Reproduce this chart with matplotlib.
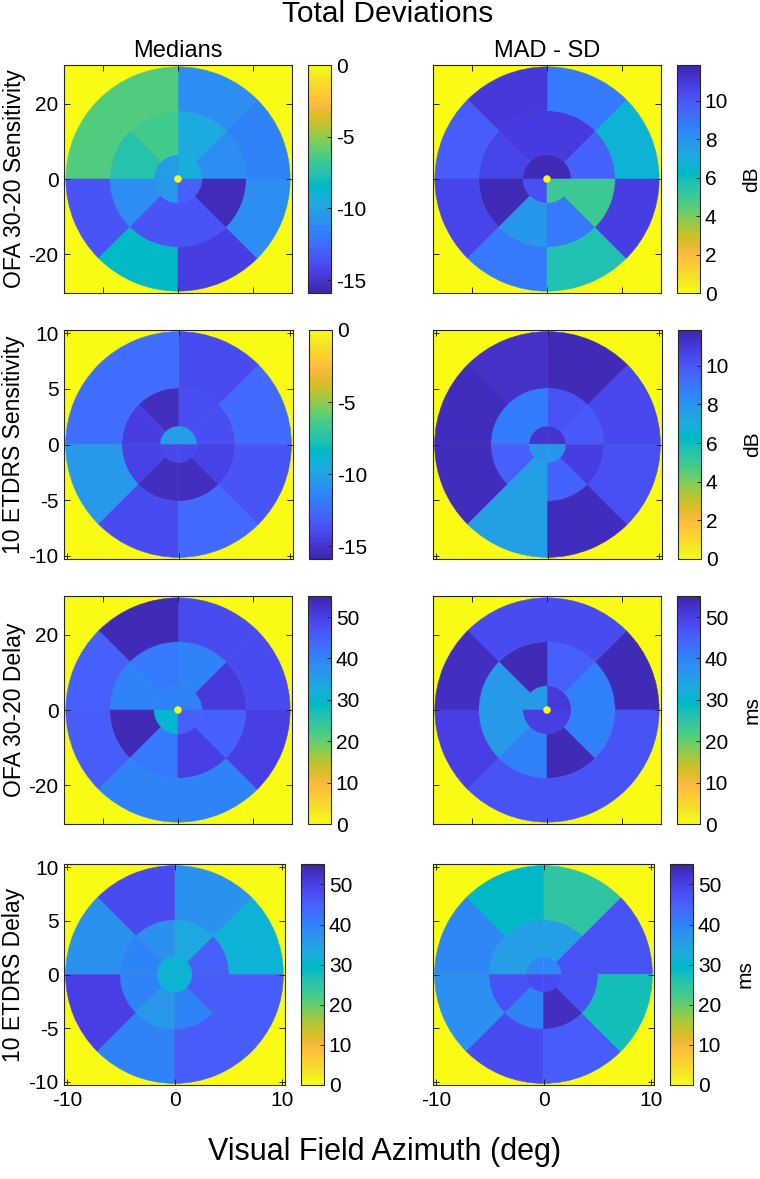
import numpy as np
import matplotlib
matplotlib.use('Agg')
import matplotlib.pyplot as plt
from matplotlib.patches import Wedge, Circle
from matplotlib.collections import PatchCollection
from matplotlib.colors import LinearSegmentedColormap, Normalize

plt.rcParams['font.family'] = ['Liberation Sans', 'DejaVu Sans']
plt.rcParams['axes.unicode_minus'] = False

# MATLAB parula (64 entries)
PARULA = [
    [0.2422, 0.1504, 0.6603], [0.2504, 0.1650, 0.7076], [0.2578, 0.1818, 0.7511], [0.2647, 0.1978, 0.7952],
    [0.2706, 0.2147, 0.8364], [0.2751, 0.2342, 0.8710], [0.2783, 0.2559, 0.8991], [0.2803, 0.2782, 0.9221],
    [0.2813, 0.3006, 0.9414], [0.2810, 0.3228, 0.9579], [0.2795, 0.3447, 0.9717], [0.2760, 0.3667, 0.9829],
    [0.2699, 0.3892, 0.9906], [0.2602, 0.4123, 0.9952], [0.2440, 0.4358, 0.9988], [0.2206, 0.4603, 0.9973],
    [0.1963, 0.4847, 0.9892], [0.1834, 0.5074, 0.9798], [0.1786, 0.5289, 0.9682], [0.1764, 0.5499, 0.9520],
    [0.1687, 0.5703, 0.9359], [0.1540, 0.5902, 0.9218], [0.1460, 0.6091, 0.9079], [0.1380, 0.6276, 0.8973],
    [0.1248, 0.6459, 0.8883], [0.1113, 0.6635, 0.8763], [0.0952, 0.6798, 0.8598], [0.0689, 0.6948, 0.8394],
    [0.0297, 0.7082, 0.8163], [0.0036, 0.7203, 0.7917], [0.0067, 0.7312, 0.7660], [0.0433, 0.7411, 0.7394],
    [0.0964, 0.7500, 0.7120], [0.1408, 0.7584, 0.6842], [0.1717, 0.7670, 0.6554], [0.1938, 0.7758, 0.6251],
    [0.2161, 0.7843, 0.5923], [0.2470, 0.7918, 0.5567], [0.2906, 0.7973, 0.5188], [0.3406, 0.8008, 0.4789],
    [0.3909, 0.8029, 0.4354], [0.4456, 0.8024, 0.3909], [0.5044, 0.7993, 0.3480], [0.5616, 0.7942, 0.3045],
    [0.6174, 0.7876, 0.2612], [0.6720, 0.7793, 0.2227], [0.7242, 0.7698, 0.1910], [0.7738, 0.7598, 0.1646],
    [0.8203, 0.7498, 0.1535], [0.8634, 0.7406, 0.1596], [0.9035, 0.7330, 0.1774], [0.9393, 0.7288, 0.2100],
    [0.9728, 0.7298, 0.2394], [0.9956, 0.7434, 0.2371], [0.9970, 0.7659, 0.2199], [0.9952, 0.7893, 0.2028],
    [0.9892, 0.8136, 0.1885], [0.9786, 0.8386, 0.1766], [0.9676, 0.8639, 0.1643], [0.9610, 0.8890, 0.1537],
    [0.9597, 0.9135, 0.1423], [0.9628, 0.9373, 0.1265], [0.9691, 0.9606, 0.1064], [0.9769, 0.9839, 0.0805],
]
parula = LinearSegmentedColormap.from_list('parula', PARULA, N=256)
parula_r = parula.reversed()

# sector values: center disk = 4 quadrants, mid/outer rings = 8 sectors,
# counter-clockwise starting at 0 deg (east)
OFA_SENS_MED_C = [-9.3, -10.3, -10.5, -13.0]
OFA_SENS_MED_M = [-11.0, -9.5, -6.5, -7.5, -11.0, -13.5, -13.5, -15.5]
OFA_SENS_MED_O = [-11.5, -11.0, -6.2, -6.2, -13.5, -8.5, -14.5, -11.0]

OFA_SENS_MAD_C = [11.6, 11.6, 10.2, 5.0]
OFA_SENS_MAD_M = [9.6, 10.9, 10.9, 10.6, 11.6, 7.9, 8.9, 5.0]
OFA_SENS_MAD_O = [6.7, 8.9, 11.0, 9.8, 10.6, 8.9, 5.7, 10.8]

ETDRS_SENS_MED_C = [-10.3, -10.3, -14.0, -14.0]
ETDRS_SENS_MED_M = [-13.8, -13.8, -15.4, -14.5, -14.3, -15.4, -15.4, -14.3]
ETDRS_SENS_MED_O = [-12.6, -13.9, -12.4, -12.4, -10.5, -13.9, -12.6, -13.5]

ETDRS_SENS_MAD_C = [11.2, 11.2, 7.9, 7.9]
ETDRS_SENS_MAD_M = [9.9, 10.1, 8.8, 8.8, 9.7, 7.5, 9.6, 10.8]
ETDRS_SENS_MAD_O = [10.5, 11.6, 11.3, 11.5, 11.5, 7.5, 11.5, 10.2]

OFA_DEL_MED_C = [40.0, 40.0, 30.5, 45.0]
OFA_DEL_MED_M = [51.0, 40.0, 41.5, 40.0, 54.0, 41.5, 50.0, 45.0]
OFA_DEL_MED_O = [48.0, 48.0, 54.0, 45.0, 45.5, 40.0, 40.0, 50.0]

OFA_DEL_MAD_C = [51.0, 36.0, 50.0, 50.0]
OFA_DEL_MAD_M = [40.5, 45.0, 54.0, 36.0, 36.0, 40.5, 54.0, 40.5]
OFA_DEL_MAD_O = [54.0, 48.0, 48.0, 53.0, 50.0, 47.0, 47.0, 47.0]

ETDRS_DEL_MED_C = [31.0, 31.0, 31.0, 31.0]
ETDRS_DEL_MED_M = [45.0, 33.5, 37.5, 40.0, 40.0, 36.5, 40.0, 45.5]
ETDRS_DEL_MED_O = [31.0, 37.5, 48.0, 37.5, 50.0, 40.0, 45.5, 45.5]

ETDRS_DEL_MAD_C = [39.0, 39.0, 48.0, 48.0]
ETDRS_DEL_MAD_M = [47.0, 35.5, 35.5, 35.5, 47.0, 40.0, 53.0, 47.0]
ETDRS_DEL_MAD_O = [47.0, 25.0, 29.5, 39.0, 38.0, 48.0, 45.5, 27.5]

ROW_LABELS = ['OFA 30-20 Sensitivity', '10 ETDRS Sensitivity', 'OFA 30-20 Delay', '10 ETDRS Delay']
COL_TITLES = ['Medians', 'MAD - SD']

W, H = 760, 1179
fig = plt.figure(figsize=(W / 100, H / 100), dpi=100)
FG = '#262626'


def px(x0, y0, x1, y1):
    return [x0 / W, 1 - y1 / H, (x1 - x0) / W, (y1 - y0) / H]


def draw_map(ax, cax, center, mid, outer, radii, dot, cmap, vmin, vmax, lim, yticks, cticks, clabel):
    r0, r1, r2 = radii
    patches, vals = [], []
    for k, v in enumerate(center):
        patches.append(Wedge((0, 0), r0, 90 * k, 90 * (k + 1)))
        vals.append(v)
    for k, v in enumerate(mid):
        patches.append(Wedge((0, 0), r1, 45 * k, 45 * (k + 1), width=r1 - r0))
        vals.append(v)
    for k, v in enumerate(outer):
        patches.append(Wedge((0, 0), r2, 45 * k, 45 * (k + 1), width=r2 - r1))
        vals.append(v)
    if dot:
        patches.append(Circle((0, 0), dot))
        vals.append(0)
    norm = Normalize(vmin, vmax)
    pc = PatchCollection(patches, cmap=cmap, norm=norm, edgecolor='face', linewidth=0.4)
    pc.set_array(np.array(vals))
    ax.add_collection(pc)
    ax.set_facecolor(cmap(norm(0)))
    ax.set_xlim(-lim, lim)
    ax.set_ylim(-lim, lim)
    ax.set_yticks(yticks)
    ax.set_xticks([t for t in yticks if t % 10 == 0] if lim < 15 else yticks)
    ax.tick_params(direction='in', top=True, right=True, length=4, width=0.7,
                   color=FG, labelsize=15, labelcolor='black', pad=4)
    for s in ax.spines.values():
        s.set_color(FG)
        s.set_linewidth(0.8)
    cb = fig.colorbar(pc, cax=cax, ticks=cticks)
    cb.outline.set_edgecolor(FG)
    cb.outline.set_linewidth(0.8)
    cax.tick_params(direction='in', length=3, width=0.7, color=FG, labelsize=15)
    if clabel:
        cb.set_label(clabel, fontsize=15, labelpad=10)
    return pc


panels = [
    [(OFA_SENS_MED_C, OFA_SENS_MED_M, OFA_SENS_MED_O), (OFA_SENS_MAD_C, OFA_SENS_MAD_M, OFA_SENS_MAD_O)],
    [(ETDRS_SENS_MED_C, ETDRS_SENS_MED_M, ETDRS_SENS_MED_O), (ETDRS_SENS_MAD_C, ETDRS_SENS_MAD_M, ETDRS_SENS_MAD_O)],
    [(OFA_DEL_MED_C, OFA_DEL_MED_M, OFA_DEL_MED_O), (OFA_DEL_MAD_C, OFA_DEL_MAD_M, OFA_DEL_MAD_O)],
    [(ETDRS_DEL_MED_C, ETDRS_DEL_MED_M, ETDRS_DEL_MED_O), (ETDRS_DEL_MAD_C, ETDRS_DEL_MAD_M, ETDRS_DEL_MAD_O)],
]

row_y = [(65, 293), (330, 559), (596, 824), (864, 1085)]
for i, (y0, y1) in enumerate(row_y):
    side = y1 - y0
    ofa = i in (0, 2)
    sens = i in (0, 1)
    if ofa:
        lim, radii, dot, yt = 30.2, (6.45, 18.1, 29.7), 0.9, [-20, 0, 20]
    else:
        lim, radii, dot, yt = 10.3, (1.67, 5.1, 10.15), 0, [-10, -5, 0, 5, 10]
    for j in range(2):
        x0 = 64 if j == 0 else 433
        ax = fig.add_axes(px(x0, y0, x0 + side, y1))
        cx0 = x0 + side + 16
        cax = fig.add_axes(px(cx0, y0, cx0 + 23, y1))
        c, m, o = panels[i][j]
        if sens:
            if j == 0:
                cmap, vmin, vmax, ct, cl = parula, -15.9, 0, [-15, -10, -5, 0], None
            else:
                cmap, vmin, vmax, ct, cl = parula_r, 0, 11.85, [0, 2, 4, 6, 8, 10], 'dB'
        else:
            cmap, vmin, vmax, ct = parula_r, 0, 55.1, [0, 10, 20, 30, 40, 50]
            cl = 'ms' if j == 1 else None
        draw_map(ax, cax, c, m, o, radii, dot, cmap, vmin, vmax, lim, yt, ct, cl)
        if j == 0:
            ax.set_ylabel(ROW_LABELS[i], fontsize=16.5, labelpad=2)
        else:
            ax.set_yticklabels([])
        if i < 3:
            ax.set_xticklabels([])
        if i == 0:
            ax.set_title(COL_TITLES[j], fontsize=17, pad=6)

fig.text(388 / W, 1 - 14 / H, 'Total Deviations', ha='center', va='center', fontsize=21.5)
fig.text(385 / W, 1 - 1152 / H, 'Visual Field Azimuth (deg)', ha='center', va='center', fontsize=22)

fig.savefig('out.png', dpi=100)
